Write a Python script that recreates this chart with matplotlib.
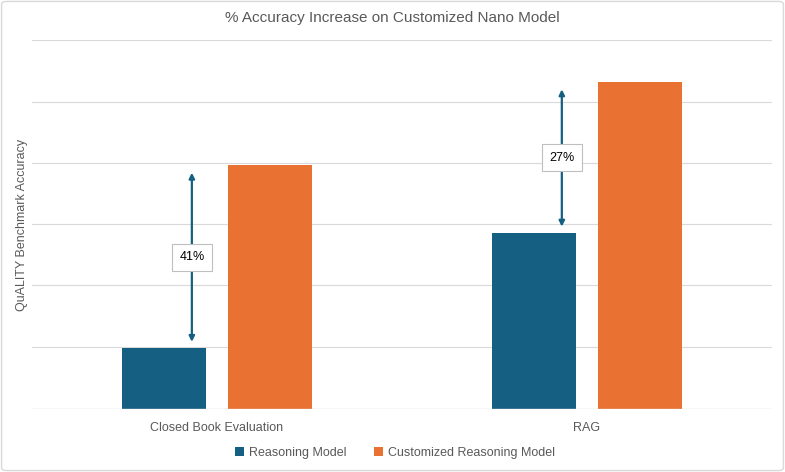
import numpy as np
import matplotlib.pyplot as plt
from matplotlib.patches import FancyBboxPatch

plt.rcParams['font.family'] = ['Liberation Sans Narrow', 'Liberation Sans', 'DejaVu Sans']

categories = ['Closed Book Evaluation', 'RAG']
reasoning = [34.9, 44.3]          # Reasoning Model
customized = [49.8, 56.6]         # Customized Reasoning Model
gain_labels = ['41%', '27%']

blue = '#156082'
orange = '#E97132'
grey_txt = '#595959'

fig = plt.figure(figsize=(7.85, 4.72), dpi=100)
ax = fig.add_axes([0.0408, 0.1328, 0.9426, 0.7818])

x = np.arange(len(categories))
w = 0.226
off = 0.143
ax.bar(x - off, reasoning, w, color=blue, label='Reasoning Model', zorder=3)
ax.bar(x + off, customized, w, color=orange, label='Customized Reasoning Model', zorder=3)

# difference arrows with labels
for i in range(len(categories)):
    ax_x = x[i] - off + 0.075
    lo = reasoning[i] + 0.5
    hi = customized[i] - 0.6
    ax.annotate('', xy=(ax_x, hi), xytext=(ax_x, lo),
                arrowprops=dict(arrowstyle='<|-|>', color=blue, lw=1.6,
                                mutation_scale=8, shrinkA=0, shrinkB=0), zorder=4)
    ax.text(ax_x, (lo + hi) / 2, gain_labels[i], ha='center', va='center', fontsize=9,
            color='black', zorder=5,
            bbox=dict(boxstyle='square,pad=0.6', fc='white', ec='#bfbfbf', lw=0.8))

ax.set_xlim(-0.5, 1.5)
ax.set_ylim(29.9, 60)
ax.set_yticks(np.arange(35, 61, 5))
ax.yaxis.grid(True, color='#d9d9d9', lw=0.8, zorder=0)
ax.axhline(29.95, color='#d9d9d9', lw=1.0, zorder=4)
ax.tick_params(axis='y', length=0, labelleft=False)
ax.tick_params(axis='x', length=0, labelsize=9, labelcolor=grey_txt, pad=9)
ax.set_xticks(x)
ax.set_xticklabels(categories)
for s in ax.spines.values():
    s.set_visible(False)

ax.set_ylabel('QuALITY Benchmark Accuracy', fontsize=9, color=grey_txt, labelpad=3)
fig.text(0.5, 0.962, '% Accuracy Increase on Customized Nano Model', ha='center', va='center',
         fontsize=11, color=grey_txt)

fig.legend(loc='center', bbox_to_anchor=(0.503, 0.04), ncol=2, frameon=False, fontsize=9,
           handlelength=0.7, handleheight=0.7, handletextpad=0.4, columnspacing=2.2,
           labelcolor=grey_txt)

fig.patches.append(FancyBboxPatch((0.002, 0.003), 0.996, 0.994, boxstyle='round,pad=0,rounding_size=0.006',
                                  transform=fig.transFigure, fc='none', ec='#d9d9d9', lw=1.0))

fig.savefig('out.png', dpi=100)
